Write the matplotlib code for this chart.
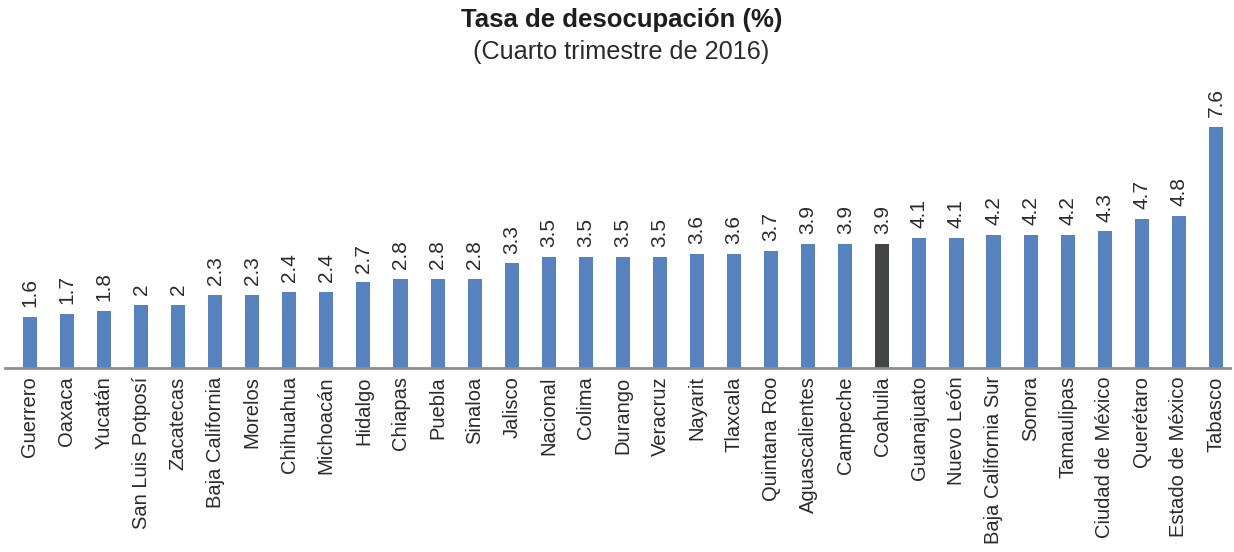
import matplotlib
matplotlib.use("Agg")
import matplotlib.pyplot as plt

plt.rcParams['font.family'] = ['Liberation Sans', 'DejaVu Sans']

estados = ["Guerrero", "Oaxaca", "Yucatán", "San Luis Potposí", "Zacatecas",
           "Baja California", "Morelos", "Chihuahua", "Michoacán", "Hidalgo",
           "Chiapas", "Puebla", "Sinaloa", "Jalisco", "Nacional", "Colima",
           "Durango", "Veracruz", "Nayarit", "Tlaxcala", "Quintana Roo",
           "Aguascalientes", "Campeche", "Coahuila", "Guanajuato", "Nuevo León",
           "Baja California Sur", "Sonora", "Tamaulipas", "Ciudad de México",
           "Querétaro", "Estado de México", "Tabasco"]
tasas = [1.6, 1.7, 1.8, 2, 2, 2.3, 2.3, 2.4, 2.4, 2.7, 2.8, 2.8, 2.8, 3.3,
         3.5, 3.5, 3.5, 3.5, 3.6, 3.6, 3.7, 3.9, 3.9, 3.9, 4.1, 4.1, 4.2, 4.2,
         4.2, 4.3, 4.7, 4.8, 7.6]
destacado = "Coahuila"

azul = "#5683C0"
gris_oscuro = "#444547"
texto = "#2b2b2b"

fig = plt.figure(figsize=(12.34, 5.52), dpi=100)
ax = fig.add_axes([5 / 1234, 184 / 552, 1225 / 1234, 254 / 552])

x = list(range(len(estados)))
colores = [gris_oscuro if e == destacado else azul for e in estados]
ax.bar(x, tasas, width=0.38, color=colores, zorder=2)

for xi, v in zip(x, tasas):
    ax.annotate(f"{v:g}", (xi, v), xytext=(0, 7), textcoords="offset points",
                rotation=90, ha="center", va="bottom", fontsize=15,
                color=texto, annotation_clip=False)

ax.set_xlim(-0.67, 32.38)
ax.set_ylim(0, 8)
ax.set_xticks(x)
ax.set_xticklabels(estados, rotation=90, fontsize=14.5, color=texto)
ax.tick_params(axis="x", length=0, pad=6)
ax.set_yticks([])
for s in ["top", "right", "left"]:
    ax.spines[s].set_visible(False)
ax.spines["bottom"].set_color("#8c8c8c")
ax.spines["bottom"].set_linewidth(2)

fig.text(0.5035, 0.963, "Tasa de desocupación (%)", ha="center", va="center",
         fontsize=18.5, fontweight="bold", color="#1e1e1e")
fig.text(0.5035, 0.906, "(Cuarto trimestre de 2016)", ha="center", va="center",
         fontsize=18.2, color=texto)

fig.savefig("out.png", dpi=100)
